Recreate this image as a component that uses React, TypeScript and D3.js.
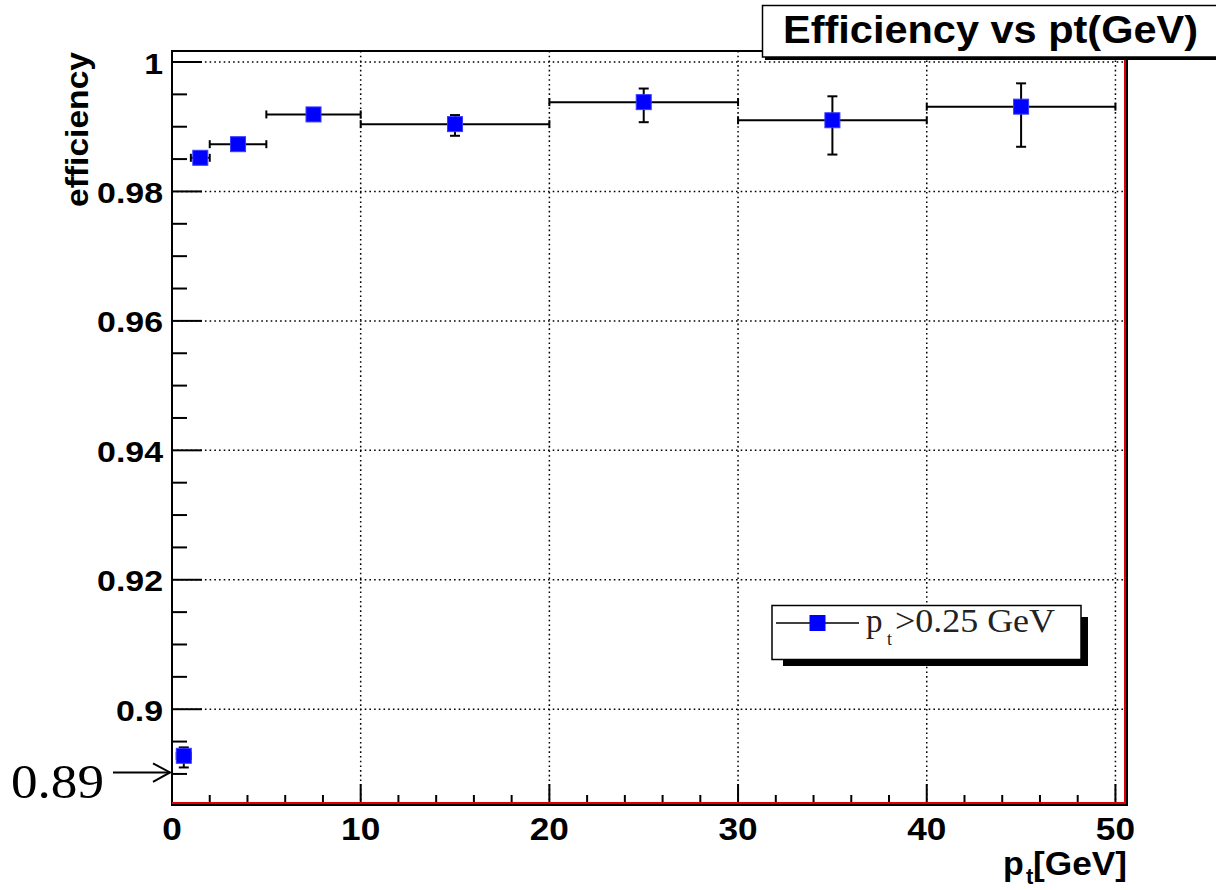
import React from "react";
import * as d3 from "d3";

// ---- data ----
const binLow = [0.25, 1, 2, 5, 10, 20, 30, 40];
const binHigh = [1, 2, 5, 10, 20, 30, 40, 50];
const efficiency = [0.8928, 0.9852, 0.9873, 0.9919, 0.9904, 0.9938, 0.991, 0.9931];
const errUp = [0.0013, 0.0004, 0.0004, 0.0003, 0.0014, 0.0021, 0.0037, 0.0036];
const errDown = [0.0018, 0.0005, 0.0004, 0.0004, 0.0018, 0.0031, 0.0053, 0.0062];
const xTickMajor = [0, 10, 20, 30, 40, 50];
const xTickMinor = [2, 4, 6, 8, 12, 14, 16, 18, 22, 24, 26, 28, 32, 34, 36, 38, 42, 44, 46, 48];
const yTickMajor = [0.9, 0.92, 0.94, 0.96, 0.98, 1.0];
const yTickLabels = ["0.9", "0.92", "0.94", "0.96", "0.98", "1"];
const yTickMinor = [0.89, 0.895, 0.905, 0.91, 0.915, 0.925, 0.93, 0.935, 0.945, 0.95, 0.955, 0.965, 0.97, 0.975, 0.985, 0.99, 0.995];
const titleText = "Efficiency vs pt(GeV)";
const yTitle = "efficiency";
const legendLabel = ">0.25 GeV";
const annotationText = "0.89";
const annotationValue = 0.89;

const W = 1216;
const H = 890;
const L = 172, R = 1126, T = 51, B = 805;

const SANS = "'Liberation Sans', Arial, sans-serif";
const SERIF = "'Liberation Serif', 'Times New Roman', serif";

export default function App() {
  const x = d3.scaleLinear().domain([0, 50.56]).range([L, R]);
  const y = d3.scaleLinear().domain([0.8852, 1.0017]).range([B, T]);
  const dots = "1.6 3.1";
  const ms = 15;
  const cap = 5;

  return (
    <svg
      width={W}
      height={H}
      viewBox={`0 0 ${W} ${H}`}
      style={{ position: "absolute", left: 0, top: 0, background: "#fff" }}
    >
      <rect x={0} y={0} width={W} height={H} fill="#fff" />
      {/* grid */}
      {yTickMajor.map((v, i) => (
        <line key={"gy" + i} x1={L} x2={R} y1={y(v)} y2={y(v)} stroke="#000" strokeWidth={1.5} strokeDasharray={dots} />
      ))}
      {xTickMajor.filter((v) => v > 0).map((v, i) => (
        <line key={"gx" + i} x1={x(v)} x2={x(v)} y1={T} y2={B} stroke="#000" strokeWidth={1.5} strokeDasharray={dots} />
      ))}
      {/* ticks */}
      {yTickMajor.map((v, i) => (
        <line key={"ty" + i} x1={L} x2={L + 30} y1={y(v)} y2={y(v)} stroke="#000" strokeWidth={2} />
      ))}
      {yTickMinor.map((v, i) => (
        <line key={"tym" + i} x1={L} x2={L + 15} y1={y(v)} y2={y(v)} stroke="#000" strokeWidth={2} />
      ))}
      {xTickMajor.map((v, i) => (
        <line key={"tx" + i} x1={x(v)} x2={x(v)} y1={B} y2={B - 21} stroke="#000" strokeWidth={2} />
      ))}
      {xTickMinor.map((v, i) => (
        <line key={"txm" + i} x1={x(v)} x2={x(v)} y1={B} y2={B - 10} stroke="#000" strokeWidth={2} />
      ))}
      {/* frame */}
      <line x1={L} x2={L} y1={T - 1} y2={B + 1} stroke="#000" strokeWidth={2} />
      <line x1={L} x2={R + 2} y1={T} y2={T} stroke="#000" strokeWidth={2} />
      <line x1={L} x2={R + 2} y1={B} y2={B} stroke="#000" strokeWidth={2} />
      <line x1={R + 1} x2={R + 1} y1={T} y2={B + 1} stroke="#000" strokeWidth={2} />
      <line x1={L} x2={R} y1={B - 2} y2={B - 2} stroke="#e00000" strokeWidth={2} />
      <line x1={R - 1} x2={R - 1} y1={T} y2={B - 1} stroke="#e00000" strokeWidth={2} />

      {/* data */}
      {efficiency.map((e, i) => {
        const cx = x((binLow[i] + binHigh[i]) / 2);
        const cy = y(e);
        const x0 = x(binLow[i]);
        const x1 = x(binHigh[i]);
        const yt = y(e + errUp[i]);
        const yb = y(e - errDown[i]);
        return (
          <g key={"p" + i} stroke="#000" strokeWidth={2}>
            <line x1={x0} x2={x1} y1={cy} y2={cy} />
            <line x1={x0} x2={x0} y1={cy - 4} y2={cy + 4} />
            <line x1={x1} x2={x1} y1={cy - 4} y2={cy + 4} />
            <line x1={cx} x2={cx} y1={yt} y2={yb} />
            <line x1={cx - cap} x2={cx + cap} y1={yt} y2={yt} />
            <line x1={cx - cap} x2={cx + cap} y1={yb} y2={yb} />
            <rect x={cx - ms / 2} y={cy - ms / 2} width={ms} height={ms} fill="#0000ff" stroke="#3a3aff" strokeWidth={1} />
          </g>
        );
      })}

      {/* y tick labels */}
      {yTickMajor.map((v, i) => (
        <text
          key={"ly" + i}
          transform={`translate(163,${y(v) + 11.5}) scale(1.13,1)`}
          textAnchor="end"
          fontFamily={SANS}
          fontWeight="bold"
          fontSize={30}
          fill="#000"
        >
          {yTickLabels[i]}
        </text>
      ))}
      {/* x tick labels */}
      {xTickMajor.map((v, i) => (
        <text
          key={"lx" + i}
          transform={`translate(${x(v)},840) scale(1.1,1)`}
          textAnchor="middle"
          fontFamily={SANS}
          fontWeight="bold"
          fontSize={32}
          fill="#000"
        >
          {String(v)}
        </text>
      ))}

      {/* axis titles */}
      <text
        transform="translate(88,52) rotate(-90)"
        textAnchor="end"
        fontFamily={SANS}
        fontWeight="bold"
        fontSize={32}
        textLength={155}
        lengthAdjust="spacingAndGlyphs"
      >
        {yTitle}
      </text>
      <g fontFamily={SANS} fontWeight="bold" fill="#000">
        <text x={1003} y={875} fontSize={34}>p</text>
        <text x={1026} y={884} fontSize={22}>t</text>
        <text x={1033} y={875} fontSize={34} textLength={94} lengthAdjust="spacingAndGlyphs">[GeV]</text>
      </g>

      {/* legend */}
      <rect x={783} y={617} width={305} height={49} fill="#000" />
      <rect x={772} y={605.5} width={309} height={54} fill="#fff" stroke="#000" strokeWidth={1.5} />
      <line x1={776} x2={859} y1={623} y2={623} stroke="#000" strokeWidth={1.5} />
      <rect x={809.5} y={615} width={16} height={16} fill="#0000ff" />
      <g fontFamily={SERIF} fill="#222">
        <text x={866} y={632} fontSize={33}>p</text>
        <text x={887} y={645} fontSize={18}>t</text>
        <text x={895} y={632} fontSize={33} textLength={160} lengthAdjust="spacingAndGlyphs">{legendLabel}</text>
      </g>

      {/* annotation */}
      <text x={11} y={798} fontFamily={SERIF} fontSize={49} textLength={93} lengthAdjust="spacingAndGlyphs" fill="#000">
        {annotationText}
      </text>
      <g stroke="#000" strokeWidth={2} fill="none">
        <line x1={113} x2={L - 2} y1={y(annotationValue) - 1.5} y2={y(annotationValue) - 1.5} />
        <polyline points={`153,${y(annotationValue) - 10.5} ${L - 2},${y(annotationValue) - 1.5} 153,${y(annotationValue) + 8}`} />
      </g>

      {/* title box */}
      <rect x={765} y={9} width={470} height={51} fill="#000" />
      <rect x={762.5} y={5.5} width={470} height={51.5} fill="#fff" stroke="#000" strokeWidth={1.5} />
      <text x={783} y={43} fontFamily={SANS} fontWeight="bold" fontSize={39} textLength={415} lengthAdjust="spacingAndGlyphs" fill="#000">
        {titleText}
      </text>
    </svg>
  );
}
